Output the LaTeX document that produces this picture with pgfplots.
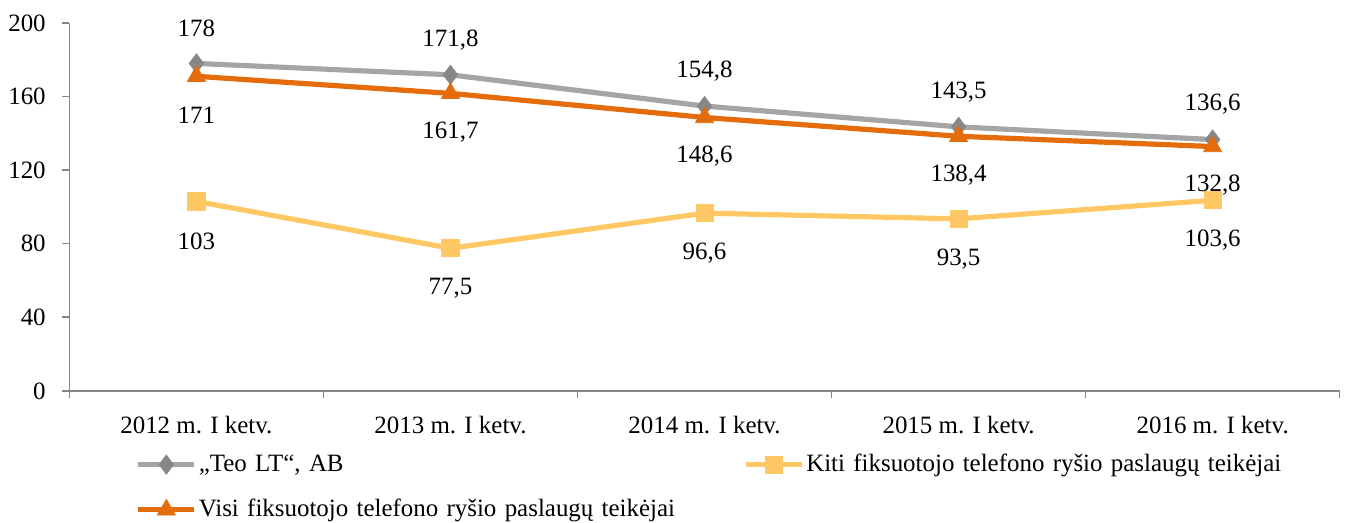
\documentclass[border=0pt]{standalone}
\usepackage{fontspec}
\setmainfont{Liberation Serif}
\usepackage{pgfplots}
\pgfplotsset{compat=1.18}

\definecolor{teogray}{RGB}{165,165,165}
\definecolor{teomark}{RGB}{135,135,135}
\definecolor{visiorange}{RGB}{228,108,10}
\definecolor{kitiyellow}{RGB}{255,200,100}
\definecolor{axisgray}{RGB}{134,134,134}

\begin{document}
\fontsize{12.5}{14}\selectfont
\begin{tikzpicture}
\begin{axis}[
  name=main,
  scale only axis,
  width=637pt, height=184.5pt,
  xmin=-0.5, xmax=4.5,
  ymin=0, ymax=200,
  axis lines*=left,
  axis line style={draw=axisgray, line width=0.8pt},
  tick style={draw=axisgray, line width=0.8pt},
  tick align=outside,
  major tick length=3.5pt,
  ytick={0,40,...,200},
  xtick={-0.5,0.5,1.5,2.5,3.5,4.5},
  xticklabels={},
  extra x ticks={0,1,2,3,4},
  extra x tick labels={2012 m. I ketv., 2013 m. I ketv., 2014 m. I ketv., 2015 m. I ketv., 2016 m. I ketv.},
  extra x tick style={tick style={draw=none}, xticklabel style={yshift=-5pt}},
  yticklabel style={xshift=-4pt},
  /pgf/number format/assume math mode=true,
  /pgf/number format/use comma,
  nodes near coords,
  every node near coord/.append style={anchor=center, font=\fontsize{12.5}{14}\selectfont, text=black},
  legend columns=2,
  legend cell align=left,
  legend style={
    draw=none, fill=none, inner sep=0pt,
    at={(axis description cs:0.052,-0.165)}, anchor=north west,
    nodes={text width=258pt, inner sep=1pt},
    row sep=10pt,
    /tikz/every even column/.append style={column sep=14pt},
  },
  legend image code/.code={
    \draw[mark repeat=2, mark phase=2] plot coordinates {(0pt,0pt) (14pt,0pt) (28pt,0pt)};
  },
]
\addplot[teogray, line width=2.6pt, mark=diamond*, mark size=4.8pt,
  mark options={fill=teomark, draw=teomark, line width=0.4pt},
  every node near coord/.append style={yshift=17.5pt}]
  coordinates {(0,178) (1,171.8) (2,154.8) (3,143.5) (4,136.6)};
\addlegendentry{„Teo LT“, AB}
\addplot[kitiyellow, line width=2.6pt, mark=square*, mark size=4.3pt,
  mark options={line width=0.4pt},
  every node near coord/.append style={yshift=-20pt}]
  coordinates {(0,103) (1,77.5) (2,96.6) (3,93.5) (4,103.6)};
\addlegendentry{Kiti fiksuotojo telefono ryšio paslaugų teikėjai}
\addplot[visiorange, line width=2.6pt, mark=triangle*, mark size=5.2pt,
  mark options={line width=0.4pt},
  every node near coord/.append style={yshift=-19.5pt}]
  coordinates {(0,171) (1,161.7) (2,148.6) (3,138.4) (4,132.8)};
\addlegendentry{Visi fiksuotojo telefono ryšio paslaugų teikėjai}
\end{axis}
\path (main.north west) ++(0,11.5pt);
\end{tikzpicture}
\end{document}
